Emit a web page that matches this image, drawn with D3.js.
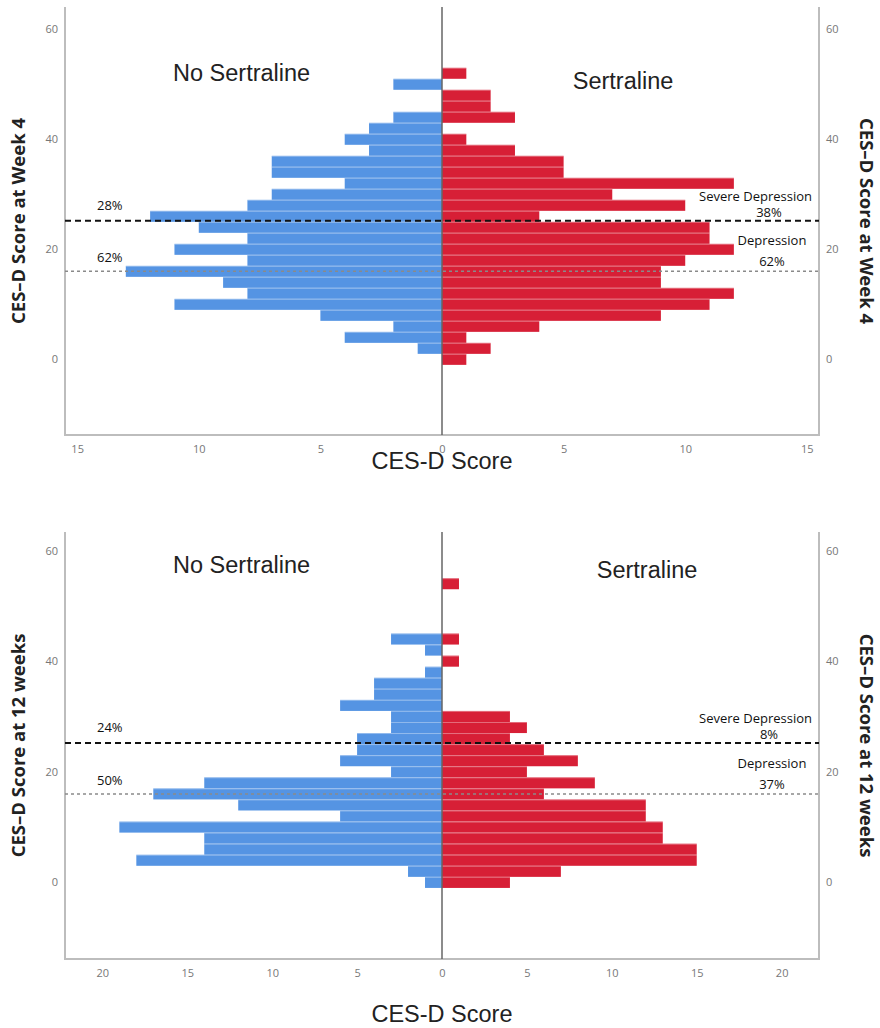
<!DOCTYPE html>
<html>
<head>
<meta charset="utf-8">
<script src="https://cdn.jsdelivr.net/npm/d3@7"></script>
<style>
  body { margin: 0; background: #fff; }
  svg text { font-family: "Open Sans", sans-serif; }
</style>
</head>
<body>
<svg id="chart" width="880" height="1028"></svg>
<script>
// bin centres of the CES-D score (width 2)
var bins_w4 = [0,2,4,6,8,10,12,14,16,18,20,22,24,26,28,30,32,34,36,38,40,42,44,46,48,50,52];
var bins_w12 = [0,2,4,6,8,10,12,14,16,18,20,22,24,26,28,30,32,34,36,38,40,42,44,46,48,50,52,54];

// counts, one per bin, bottom to top
var noSert_w4 = [0,1,4,2,5,11,8,9,13,8,11,8,10,12,8,7,4,7,7,3,4,3,2,0,0,2,0];
var sert_w4   = [1,2,1,4,9,11,12,9,9,10,12,11,11,4,10,7,12,5,5,3,1,0,3,2,2,0,1];

var noSert_w12 = [1,2,18,14,14,19,6,12,17,14,3,6,5,5,3,3,6,4,4,1,0,1,3,0,0,0,0,0];
var sert_w12   = [4,7,15,15,13,13,12,12,6,9,5,8,6,4,5,4,0,0,0,0,1,0,1,0,0,0,0,1];

var yTicks = [0, 20, 40, 60];
var xTicks_w4 = [-15, -10, -5, 0, 5, 10, 15];
var xTicks_w12 = [-20, -15, -10, -5, 0, 5, 10, 15, 20];

// cut-offs
var depressionCut = 16;
var severeCut = 25.2;

var pct_w4 = {noSevere: "28%", noDep: "62%", sSevere: "38%", sDep: "62%"};
var pct_w12 = {noSevere: "24%", noDep: "50%", sSevere: "8%", sDep: "37%"};

var BLUE = "#5594e3";
var RED = "#d71f36";

var svg = d3.select("#chart");

drawPanel({
  top: 7, bottom: 435, xMax: 15.5, yDomain: [-13.75, 64.05],
  bins: bins_w4, left: noSert_w4, right: sert_w4, xTicks: xTicks_w4,
  pct: pct_w4, yTitle: "CES\u2013D Score at Week 4",
  noLabelY: 81, sLabelX: 623, sLabelY: 89, xTitleY: 469
});

drawPanel({
  top: 532, bottom: 959, xMax: 22.2, yDomain: [-13.85, 63.35],
  bins: bins_w12, left: noSert_w12, right: sert_w12, xTicks: xTicks_w12,
  pct: pct_w12, yTitle: "CES\u2013D Score at 12 weeks",
  noLabelY: 573, sLabelX: 647, sLabelY: 578, xTitleY: 1022
});

function drawPanel(p)
{
  var L = 65, R = 819;
  var x = d3.scaleLinear().domain([-p.xMax, p.xMax]).range([L, R]);
  var y = d3.scaleLinear().domain(p.yDomain).range([p.bottom, p.top]);
  var g = svg.append("g");

  // blue bars (left), red bars (right)
  var rows = p.bins.map(function(b, i){ return {bin: b, l: p.left[i], r: p.right[i]}; });

  g.selectAll(".lbar").data(rows.filter(function(d){ return d.l > 0; }))
    .enter().append("rect")
    .attr("x", function(d){ return x(-d.l); })
    .attr("y", function(d){ return y(d.bin + 1); })
    .attr("width", function(d){ return x(0) - x(-d.l); })
    .attr("height", function(d){ return y(d.bin - 1) - y(d.bin + 1); })
    .attr("fill", BLUE);

  g.selectAll(".rbar").data(rows.filter(function(d){ return d.r > 0; }))
    .enter().append("rect")
    .attr("x", x(0))
    .attr("y", function(d){ return y(d.bin + 1); })
    .attr("width", function(d){ return x(d.r) - x(0); })
    .attr("height", function(d){ return y(d.bin - 1) - y(d.bin + 1); })
    .attr("fill", RED);

  // thin light separators between stacked bars
  g.selectAll(".sep").data(rows.filter(function(d){ return d.l > 0 || d.r > 0; }))
    .enter().append("line")
    .attr("x1", function(d){ return x(-d.l); })
    .attr("x2", function(d){ return x(d.r); })
    .attr("y1", function(d){ return y(d.bin + 1) + 0.5; })
    .attr("y2", function(d){ return y(d.bin + 1) + 0.5; })
    .attr("stroke", "#fff").attr("stroke-opacity", 0.35).attr("stroke-width", 1);

  // frame
  g.append("line").attr("x1", L).attr("x2", L).attr("y1", p.top).attr("y2", p.bottom)
    .attr("stroke", "#bdbdbd").attr("stroke-width", 2);
  g.append("line").attr("x1", R).attr("x2", R).attr("y1", p.top).attr("y2", p.bottom)
    .attr("stroke", "#bdbdbd").attr("stroke-width", 2);
  g.append("line").attr("x1", L - 1).attr("x2", R + 1).attr("y1", p.bottom).attr("y2", p.bottom)
    .attr("stroke", "#bdbdbd").attr("stroke-width", 2);
  // centre line
  g.append("line").attr("x1", x(0)).attr("x2", x(0)).attr("y1", p.top).attr("y2", p.bottom)
    .attr("stroke", "#666").attr("stroke-width", 1.5);

  // cut-off lines
  g.append("line").attr("x1", L).attr("x2", R)
    .attr("y1", y(severeCut)).attr("y2", y(severeCut))
    .attr("stroke", "#111").attr("stroke-width", 2).attr("stroke-dasharray", "6,4");
  g.append("line").attr("x1", L).attr("x2", R)
    .attr("y1", y(depressionCut)).attr("y2", y(depressionCut))
    .attr("stroke", "#8a8a8a").attr("stroke-width", 1.5).attr("stroke-dasharray", "3,3");

  // x axis
  var xAxis = d3.axisBottom(x).tickValues(p.xTicks).tickSize(0).tickPadding(10)
    .tickFormat(function(d){ return Math.abs(d); });
  var xa = g.append("g").attr("transform", "translate(0," + p.bottom + ")").call(xAxis);
  xa.select(".domain").remove();
  xa.selectAll("text").attr("fill", "#777").style("font-size", "11px")
    .style("font-family", "'Open Sans', sans-serif");

  // y axes both sides
  var yl = g.append("g").attr("transform", "translate(" + (L - 6) + ",0)")
    .call(d3.axisLeft(y).tickValues(yTicks).tickSize(0).tickPadding(1));
  yl.select(".domain").remove();
  var yr = g.append("g").attr("transform", "translate(" + (R + 6) + ",0)")
    .call(d3.axisRight(y).tickValues(yTicks).tickSize(0).tickPadding(1));
  yr.select(".domain").remove();
  g.selectAll(".tick text").filter(function(){ return true; })
    .attr("fill", "#777").style("font-size", "11px").style("font-family", "'Open Sans', sans-serif");

  // titles
  g.append("text").attr("x", 442).attr("y", p.xTitleY).attr("text-anchor", "middle")
    .style("font-family", "'Liberation Sans', Arial, sans-serif").style("font-size", "23.5px")
    .attr("fill", "#222").text("CES-D Score");

  var midY = (p.top + p.bottom) / 2;
  g.append("text").attr("transform", "translate(25," + midY + ") rotate(-90)")
    .attr("text-anchor", "middle").style("font-size", "18.5px").style("font-weight", "bold")
    .attr("fill", "#222").text(p.yTitle);
  g.append("text").attr("transform", "translate(860," + midY + ") rotate(90)")
    .attr("text-anchor", "middle").style("font-size", "18.5px").style("font-weight", "bold")
    .attr("fill", "#222").text(p.yTitle);

  g.append("text").attr("x", 173).attr("y", p.noLabelY)
    .style("font-family", "'Liberation Sans', Arial, sans-serif").style("font-size", "23.5px")
    .attr("fill", "#222").text("No Sertraline");
  g.append("text").attr("x", p.sLabelX).attr("y", p.sLabelY).attr("text-anchor", "middle")
    .style("font-family", "'Liberation Sans', Arial, sans-serif").style("font-size", "23.5px")
    .attr("fill", "#222").text("Sertraline");

  // percent annotations
  var ys = y(severeCut), yd = y(depressionCut);
  function note(tx, ty, anchor, str)
  {
    g.append("text").attr("x", tx).attr("y", ty).attr("text-anchor", anchor)
      .style("font-size", "13px").attr("fill", "#111").text(str);
  }
  note(97, ys - 11, "start", p.pct.noSevere);
  note(97, yd - 9, "start", p.pct.noDep);
  note(812, ys - 20, "end", "Severe Depression");
  note(769, ys - 4, "middle", p.pct.sSevere);
  note(772, yd - 26, "middle", "Depression");
  note(772, yd - 5, "middle", p.pct.sDep);
}
</script>
</body>
</html>
